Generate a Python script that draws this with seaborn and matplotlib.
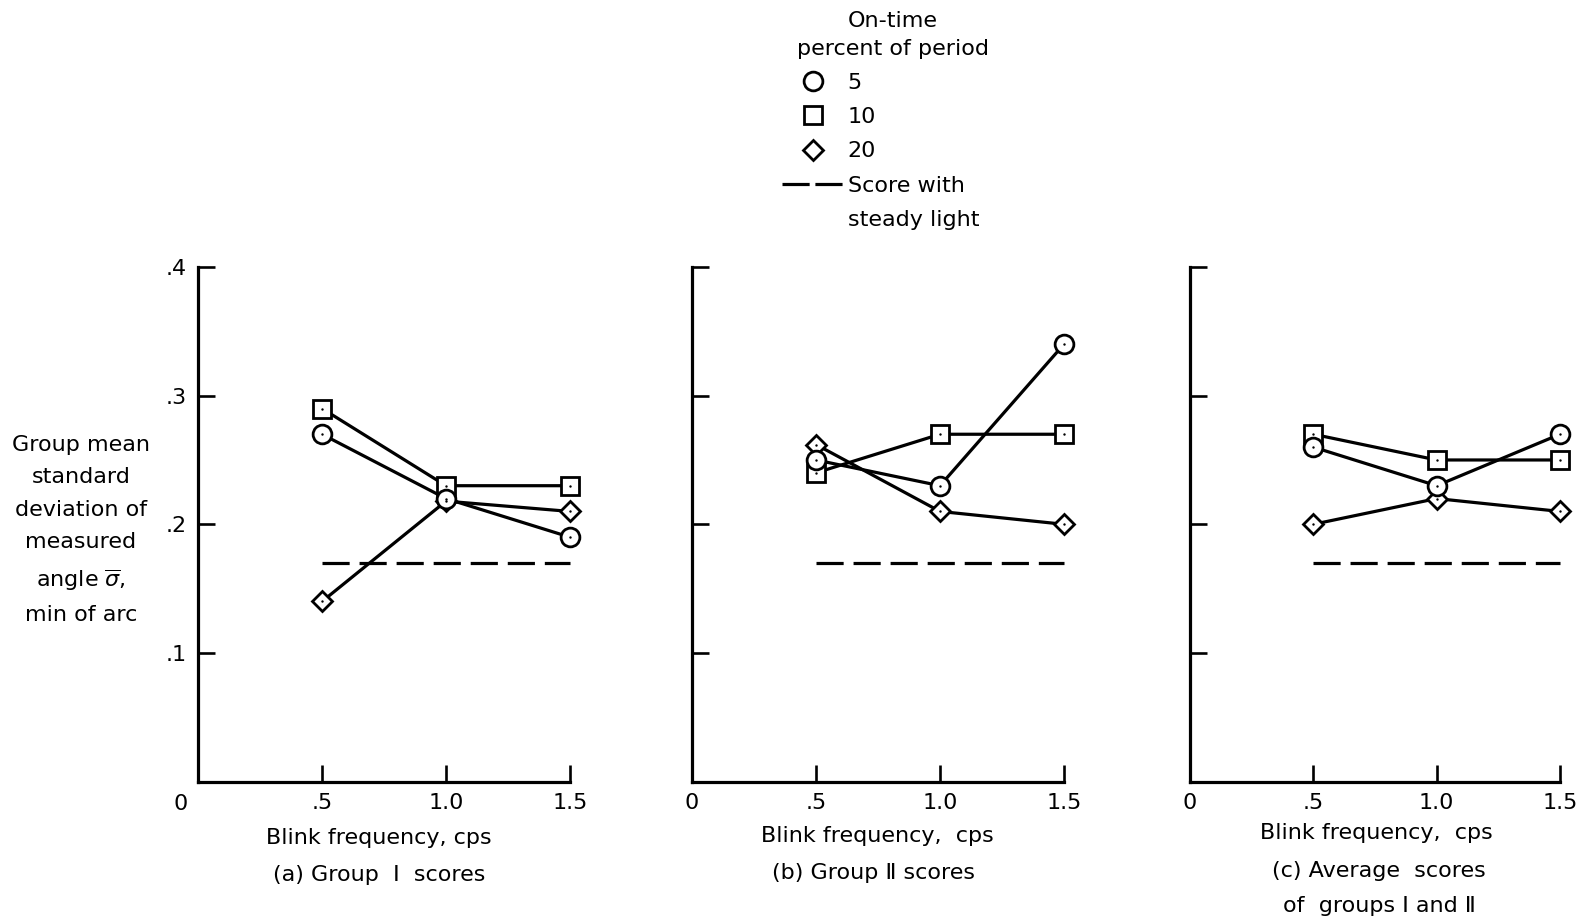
import matplotlib
matplotlib.use("Agg")
import matplotlib.pyplot as plt
from matplotlib.lines import Line2D
import seaborn as sns
import pandas as pd

# ---------------- data ----------------
freq = [0.5, 1.0, 1.5]
a_5 = [0.27, 0.22, 0.19]
a_10 = [0.29, 0.23, 0.23]
a_20 = [0.14, 0.218, 0.21]
b_5 = [0.25, 0.23, 0.34]
b_10 = [0.24, 0.27, 0.27]
b_20 = [0.262, 0.21, 0.20]
c_5 = [0.26, 0.23, 0.27]
c_10 = [0.27, 0.25, 0.25]
c_20 = [0.20, 0.22, 0.21]
steady_a = [0.17, 0.17, 0.17]
steady_b = [0.17, 0.17, 0.17]
steady_c = [0.17, 0.17, 0.17]

ontime = ["5", "10", "20"]
xtick_vals = [0, 0.5, 1.0, 1.5]
xtick_labels = ["0", ".5", "1.0", "1.5"]
ytick_vals = [0.1, 0.2, 0.3, 0.4]
ytick_labels = [".1", ".2", ".3", ".4"]

panels = {
    "a": {"5": a_5, "10": a_10, "20": a_20, "steady": steady_a},
    "b": {"5": b_5, "10": b_10, "20": b_20, "steady": steady_b},
    "c": {"5": c_5, "10": c_10, "20": c_20, "steady": steady_c},
}

# ---------------- style ----------------
sns.set_style("ticks")
plt.rcParams["font.family"] = ["DejaVu Sans"]
plt.rcParams["mathtext.fontset"] = "dejavusans"
plt.rcParams["text.color"] = "black"
plt.rcParams["axes.labelcolor"] = "black"
plt.rcParams["xtick.color"] = "black"
plt.rcParams["ytick.color"] = "black"
FS = 16

W, H = 1592, 921
fig = plt.figure(figsize=(W / 100, H / 100), dpi=100)

def fx(x):
    return x / W

def fy(y):
    return 1 - y / H

top_px, bot_px = 267, 781.6
axes_px = {"a": (198, 570), "b": (692, 1064), "c": (1190, 1560)}

markers = {"5": ("o", 13.5), "10": ("s", 12.5), "20": ("D", 10)}
order = ["10", "20", "5"]
LW = 2.3
MEW = 2.0

for key, (l, r) in axes_px.items():
    ax = fig.add_axes([fx(l), fy(bot_px), (r - l) / W, (bot_px - top_px) / H])
    d = panels[key]
    # steady-light reference line
    sdf = pd.DataFrame({"f": freq, "v": d["steady"]})
    sns.lineplot(data=sdf, x="f", y="v", ax=ax, color="black", lw=LW,
                 linestyle=(0, (8.5, 3.1)), clip_on=False)
    for s in order:
        df = pd.DataFrame({"f": freq, "v": d[s]})
        m, ms = markers[s]
        sns.lineplot(data=df, x="f", y="v", ax=ax, color="black", lw=LW,
                     marker=m, markersize=ms, markerfacecolor="white",
                     markeredgecolor="black", markeredgewidth=MEW,
                     clip_on=False, zorder=3)
        sns.scatterplot(data=df, x="f", y="v", ax=ax, color="black", s=3,
                        linewidth=0, clip_on=False, zorder=4)
    ax.set_xlim(0, 1.5)
    ax.set_ylim(0, 0.4)
    ax.set_xticks(xtick_vals)
    ax.set_yticks(ytick_vals)
    if key == "a":
        ax.set_xticklabels([""] + xtick_labels[1:], fontsize=FS)
        ax.set_yticklabels(ytick_labels, fontsize=FS)
        # origin label sits a little left of the axis corner in this panel
        ax.annotate(xtick_labels[0], xy=(xtick_vals[0], 0), xycoords="data",
                    xytext=(-17, -22), textcoords="offset pixels",
                    ha="center", va="center", fontsize=FS, annotation_clip=False)
    else:
        ax.set_xticklabels(xtick_labels, fontsize=FS)
        ax.set_yticklabels([])
    ax.tick_params(axis="both", direction="in", length=12, width=1.9,
                   color="black", labelcolor="black")
    ax.tick_params(axis="x", pad=8)
    ax.tick_params(axis="y", pad=8)
    ax.set_xlabel("")
    ax.set_ylabel("")
    for sp in ["top", "right"]:
        ax.spines[sp].set_visible(False)
    for sp in ["left", "bottom"]:
        ax.spines[sp].set_linewidth(2.3)
        ax.spines[sp].set_color("black")
    ax.set_facecolor("white")

# ---------------- texts ----------------
fig.text(fx(81), fy(530),
         "Group mean\nstandard\ndeviation of\nmeasured\nangle $\\overline{\\sigma}$,\nmin of arc",
         ha="center", va="center", fontsize=FS, linespacing=1.78)

fig.text(fx(379), fy(838), "Blink frequency, cps", ha="center", va="center", fontsize=FS)
fig.text(fx(379), fy(875), "(a) Group  \u2160  scores", ha="center", va="center", fontsize=FS)
fig.text(fx(877), fy(836), "Blink frequency,  cps", ha="center", va="center", fontsize=FS)
fig.text(fx(873), fy(873), "(b) Group \u2161 scores", ha="center", va="center", fontsize=FS)
fig.text(fx(1376), fy(833), "Blink frequency,  cps", ha="center", va="center", fontsize=FS)
fig.text(fx(1379), fy(871), "(c) Average  scores", ha="center", va="center", fontsize=FS)
fig.text(fx(1379), fy(906), "of  groups \u2160 and \u2161", ha="center", va="center", fontsize=FS)

# ---------------- legend ----------------
fig.text(fx(893), fy(35), "On-time\npercent of period", ha="center", va="center",
         fontsize=FS, linespacing=1.5)

handles = [
    Line2D([], [], ls="none", marker="o", ms=13.5, mfc="white", mec="black", mew=MEW),
    Line2D([], [], ls="none", marker="s", ms=12.5, mfc="white", mec="black", mew=MEW),
    Line2D([], [], ls="none", marker="D", ms=10, mfc="white", mec="black", mew=MEW),
    Line2D([], [], color="black", lw=LW, linestyle=(0, (8.5, 1.8))),
    Line2D([], [], color="none", lw=0),
]
labels = ontime + ["Score with", "steady light"]
leg = fig.legend(handles, labels, loc="upper left",
                 bbox_to_anchor=(fx(782), fy(73)), frameon=False,
                 fontsize=FS, handlelength=2.75, handletextpad=0.2,
                 labelspacing=0.64, borderpad=0, borderaxespad=0)

fig.savefig("out.png", dpi=100, facecolor="white")
